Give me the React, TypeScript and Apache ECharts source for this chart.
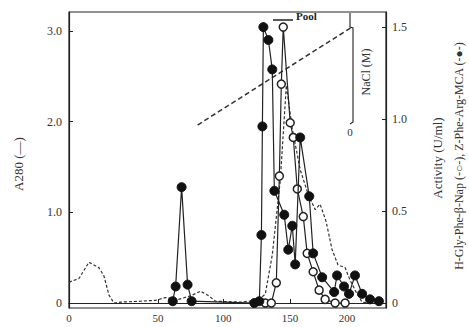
import React, { useEffect, useRef } from "react";
import * as echarts from "echarts";

// x positions are in axis units (fraction scale as drawn in the scan)
const xTickPos = [0, 64, 111, 159, 200];
const xTickLabels = ["0", "50", "100", "150", "200"];
const leftTicks = [0, 1, 2, 3];
const rightTicks = [0, 0.5, 1, 1.5];

// A280 (dashed, left axis)
const a280X = [0, 7.2, 14.3, 21.5, 25.1, 28.7, 32.3, 37.3, 51.6, 62.4, 69.5, 78.9, 87.5, 94.6, 100.4, 105.4, 123.3, 136.2, 141.2, 146.2, 152.0, 156.3, 160.6, 166.3, 172.0, 177.1, 180.6, 184.9, 189.2, 193.5, 198.6, 202.2, 206.5, 210.8, 216.5];
const a280Y = [0.23, 0.27, 0.45, 0.39, 0.30, 0.09, 0.0, 0.01, 0.02, 0.03, 0.06, 0.04, 0.08, 0.13, 0.08, 0.02, 0.01, 0.03, 0.10, 0.53, 1.36, 2.4, 1.92, 1.47, 1.20, 1.03, 1.09, 0.90, 0.59, 0.42, 0.39, 0.25, 0.12, 0.01, 0.0];

// Z-Phe-Arg-MCA (filled, right axis)
const mcaX = [74.6, 76.7, 81.0, 85.3, 88.2, 133.3, 136.9, 138.4, 139.1, 139.8, 143.4, 146.2, 147.7, 154.8, 157.7, 160.6, 162.7, 166.3, 172.8, 175.6, 182.1, 190.7, 192.8, 197.8, 201.4, 205.7, 210.8, 216.5, 222.9];
const mcaY = [0.01, 0.09, 0.63, 0.10, 0.01, 0, 0.01, 0.37, 0.96, 1.50, 1.43, 1.27, 0.61, 0.48, 0.29, 0.42, 0.21, 0.90, 0.58, 0.27, 0.14, 0.06, 0.15, 0.09, 0.05, 0.15, 0.05, 0.02, 0.01];

// H-Gly-Phe-beta-Nap (open, right axis)
const napX = [141.2, 145.5, 149.1, 151.3, 152.7, 154.1, 159.1, 161.3, 164.2, 168.5, 171.3, 175.6, 179.9, 184.2, 191.4, 198.6];
const napY = [0, 0, 0.11, 0.69, 1.19, 1.50, 0.98, 0.90, 0.62, 0.47, 0.27, 0.17, 0.07, 0.02, 0, 0];

// NaCl gradient (M)
const naclX = [92.5, 203.6];
const naclY = [0, 1];

const zip = (xs: number[], ys: number[]) => xs.map((x, i) => [x, ys[i]]);

const FONT = "'Liberation Serif', 'DejaVu Serif', serif";
const INK = "#222";
const UP = Math.PI / 2; // text reading bottom to top

export default function App() {
  const ref = useRef<HTMLDivElement>(null);
  useEffect(() => {
    if (!ref.current) return;
    const chart = echarts.init(ref.current, null, { renderer: "svg" });
    chart.setOption({
      animation: false,
      backgroundColor: "#fff",
      grid: { left: 69, right: 83, top: 12, bottom: 19, show: true, borderColor: INK, borderWidth: 1.2, backgroundColor: "transparent" },
      xAxis: {
        type: "value",
        min: 0,
        max: 228,
        splitLine: { show: false },
        axisLine: { lineStyle: { color: INK, width: 1.2 } },
        axisTick: { inside: true, length: 4, customValues: xTickPos, lineStyle: { color: INK } },
        axisLabel: {
          customValues: xTickPos,
          formatter: (v: number) => xTickLabels[xTickPos.indexOf(v)] ?? "",
          color: "#333", fontFamily: FONT, fontSize: 11, margin: 4,
        },
      },
      yAxis: [
        {
          type: "value", min: -0.055, max: 3.21, position: "left",
          splitLine: { show: false },
          axisLine: { show: true, lineStyle: { color: INK, width: 1.2 } },
          axisTick: { show: true, inside: true, length: 4, customValues: leftTicks, lineStyle: { color: INK } },
          axisLabel: { customValues: leftTicks, formatter: (v: number) => (v === 0 ? "0" : v.toFixed(1)), color: "#333", fontFamily: FONT, fontSize: 12, margin: 7 },
        },
        {
          type: "value", min: -0.027, max: 1.582, position: "right",
          splitLine: { show: false },
          axisLine: { show: true, lineStyle: { color: INK, width: 1.2 } },
          axisTick: { show: true, inside: true, length: 4, customValues: rightTicks, lineStyle: { color: INK } },
          axisLabel: { customValues: rightTicks, formatter: (v: number) => (v === 0 ? "0" : v.toFixed(1)), color: "#333", fontFamily: FONT, fontSize: 12, margin: 6 },
        },
        {
          type: "value", min: -1.867, max: 1.153, show: false,
        },
      ],
      series: [
        {
          type: "line", yAxisIndex: 2, data: zip(naclX, naclY), symbol: "none",
          lineStyle: { color: "#333", width: 1.5, type: [5, 3] }, z: 1,
        },
        {
          type: "line", yAxisIndex: 0, data: zip(a280X, a280Y), symbol: "none",
          lineStyle: { color: "#333", width: 1.2, type: [3, 2] }, z: 2,
        },
        {
          type: "line", yAxisIndex: 1, data: zip(napX, napY), symbol: "circle", symbolSize: 8,
          lineStyle: { color: INK, width: 1.2 },
          itemStyle: { color: "#fff", borderColor: INK, borderWidth: 1.5 }, z: 3,
        },
        {
          type: "line", yAxisIndex: 1, data: zip(mcaX, mcaY), symbol: "circle", symbolSize: 9,
          lineStyle: { color: INK, width: 1.2 },
          itemStyle: { color: "#111", borderColor: "#111", borderWidth: 1 }, z: 4,
        },
      ],
      graphic: [
        { type: "text", x: 18, y: 164, rotation: UP, style: { text: "A280 (—)", font: `13px ${FONT}`, fill: "#333", textAlign: "center", textVerticalAlign: "middle" } },
        { type: "text", x: 437, y: 158, rotation: UP, style: { text: "Activity (U/ml)", font: `13px ${FONT}`, fill: "#333", textAlign: "center", textVerticalAlign: "middle" } },
        { type: "text", x: 459, y: 156, rotation: UP, style: { text: "H-Gly-Phe-β-Nap (-○-), Z-Phe-Arg-MCA (-●-)", font: `12px ${FONT}`, fill: "#333", textAlign: "center", textVerticalAlign: "middle" } },
        { type: "text", x: 366, y: 72, rotation: UP, style: { text: "NaCl (M)", font: `12px ${FONT}`, fill: "#333", textAlign: "center", textVerticalAlign: "middle" } },
        { type: "text", x: 350, y: 132, style: { text: "0", font: `11px ${FONT}`, fill: "#333", textAlign: "center", textVerticalAlign: "middle" } },
        { type: "polyline", shape: { points: [[350, 13], [350, 27], [353, 28], [353, 122], [350, 124]] }, style: { stroke: INK, lineWidth: 1.1, fill: "none" } },
        { type: "line", shape: { x1: 273, y1: 20, x2: 293, y2: 20 }, style: { stroke: INK, lineWidth: 1.5 } },
        { type: "text", x: 296, y: 16, style: { text: "Pool", font: `bold 11px ${FONT}`, fill: "#222", textAlign: "left", textVerticalAlign: "middle" } },
      ],
    });
    return () => chart.dispose();
  }, []);
  return <div ref={ref} style={{ width: 469, height: 327, position: "absolute", left: 0, top: 0 }} />;
}
